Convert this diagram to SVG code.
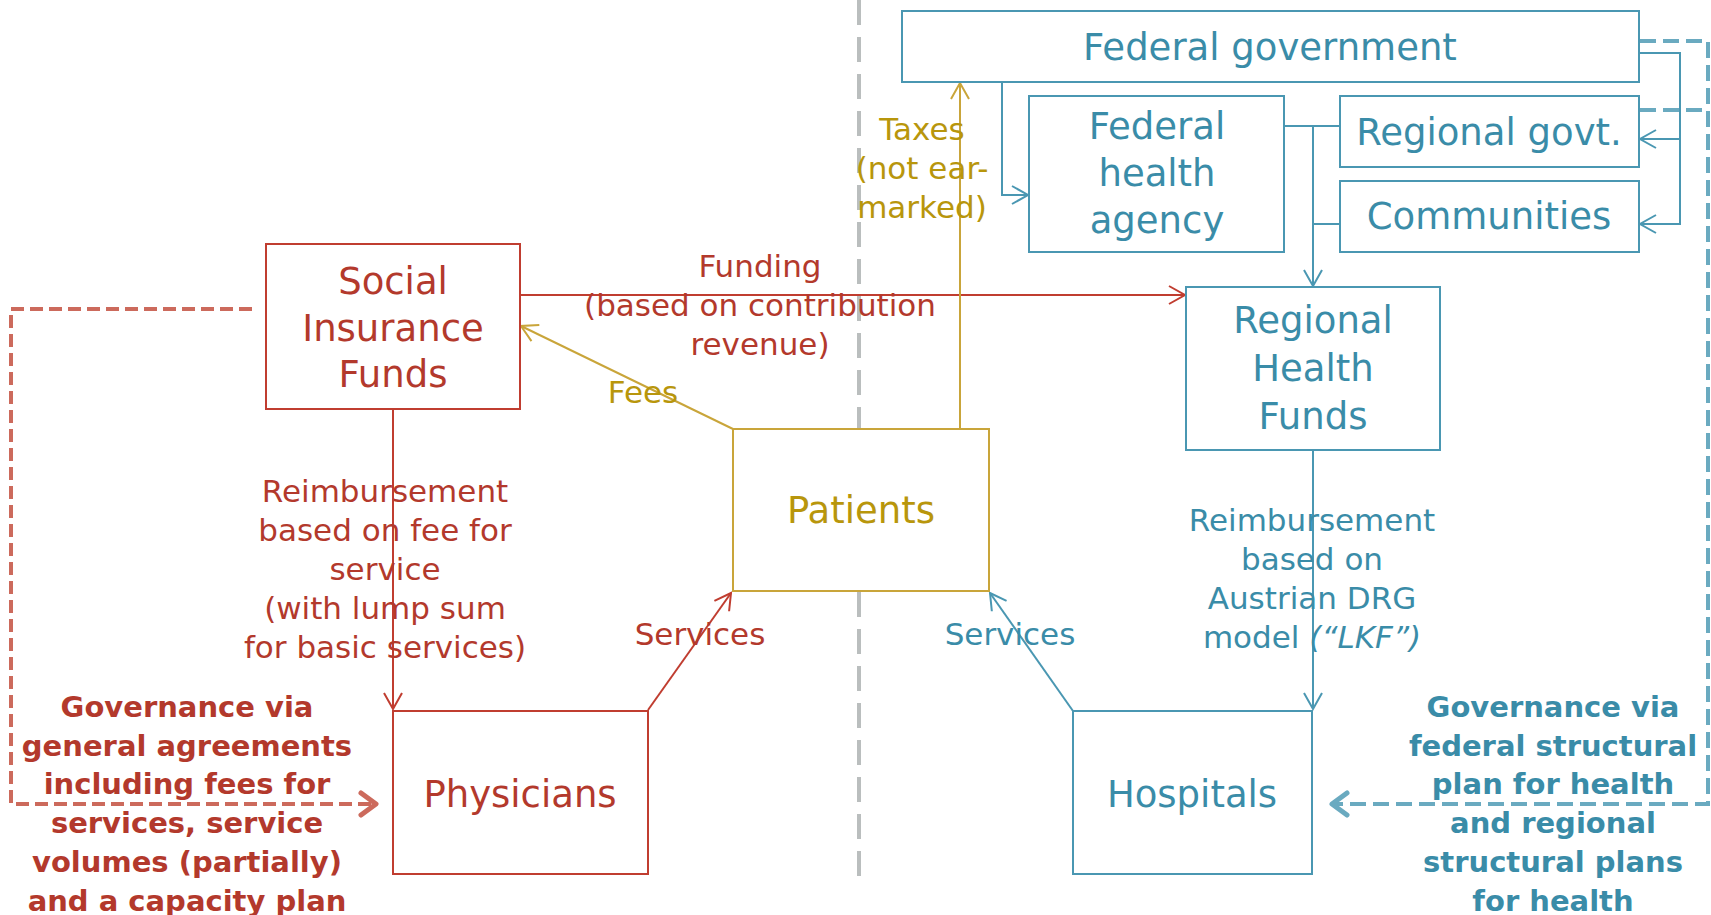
<svg xmlns="http://www.w3.org/2000/svg" width="1711" height="915" viewBox="0 0 1711 915">
  <style>
    .box { fill: #ffffff; stroke-width: 2; }
    .red { stroke: #C03D30; }
    .gold { stroke: #C9A53A; }
    .blue { stroke: #4A97B2; }
    .node { font-family: "DejaVu Sans", "Liberation Sans", sans-serif; font-size: 37px; text-anchor: middle; }
    .lbl { font-family: "DejaVu Sans", "Liberation Sans", sans-serif; font-size: 31px; text-anchor: middle; }
    .gov { font-family: "DejaVu Sans", "Liberation Sans", sans-serif; font-size: 29px; font-weight: bold; text-anchor: middle; }
    .tRed { fill: #B3392C; }
    .tGold { fill: #B8960C; }
    .tBlue { fill: #3A8CA8; }
    .link { fill: none; stroke-width: 2; }
    .dash { fill: none; stroke-width: 4; }
  </style>
  <defs>
    <marker id="arrRed" viewBox="-20 -12 24 24" markerWidth="24" markerHeight="24" refX="0" refY="0" markerUnits="userSpaceOnUse" orient="auto">
      <path d="M-16,-9 L0,0 L-16,9" fill="none" stroke="#C03D30" stroke-width="2"/>
    </marker>
    <marker id="arrGold" viewBox="-20 -12 24 24" markerWidth="24" markerHeight="24" refX="0" refY="0" markerUnits="userSpaceOnUse" orient="auto">
      <path d="M-16,-9 L0,0 L-16,9" fill="none" stroke="#C9A53A" stroke-width="2"/>
    </marker>
    <marker id="arrBlue" viewBox="-20 -12 24 24" markerWidth="24" markerHeight="24" refX="0" refY="0" markerUnits="userSpaceOnUse" orient="auto">
      <path d="M-16,-9 L0,0 L-16,9" fill="none" stroke="#4A97B2" stroke-width="2"/>
    </marker>
    <marker id="arrRedDash" viewBox="-24 -16 30 32" markerWidth="30" markerHeight="32" refX="0" refY="0" markerUnits="userSpaceOnUse" orient="auto">
      <path d="M-15,-11 L0,0 L-15,11" fill="none" stroke="#CC6A5C" stroke-width="5" stroke-linecap="round" stroke-linejoin="round"/>
    </marker>
    <marker id="arrBlueDash" viewBox="-24 -16 30 32" markerWidth="30" markerHeight="32" refX="0" refY="0" markerUnits="userSpaceOnUse" orient="auto">
      <path d="M-15,-11 L0,0 L-15,11" fill="none" stroke="#6AAAC0" stroke-width="5" stroke-linecap="round" stroke-linejoin="round"/>
    </marker>
  </defs>

  <rect width="1711" height="915" fill="#ffffff"/>

  <!-- divider between the two sectors -->
  <line x1="859" y1="0" x2="859" y2="888" stroke="#BABEBE" stroke-width="4" stroke-dasharray="25 12"/>

  <g id="connectors">
    <!-- governance (dashed) -->
    <path class="dash" d="M252,309 H11 V804 H376" stroke="#CC6A5C" stroke-dasharray="13 6" marker-end="url(#arrRedDash)"/>
    <path class="dash" d="M1640,41 H1708 V804 H1332" stroke="#6AAAC0" stroke-dasharray="16 7" marker-end="url(#arrBlueDash)"/>
    <path class="dash" d="M1640,110 H1708" stroke="#6AAAC0" stroke-dasharray="16 7"/>

    <!-- public sector structure -->
    <path class="link blue" d="M1002,82 V195 H1028" marker-end="url(#arrBlue)"/>
    <path class="link blue" d="M1284,126 H1340"/>
    <path class="link blue" d="M1313,126 V286" marker-end="url(#arrBlue)"/>
    <path class="link blue" d="M1313,224 H1340"/>
    <path class="link blue" d="M1639,53 H1680 V224 H1640" marker-end="url(#arrBlue)"/>
    <path class="link blue" d="M1680,139 H1640" marker-end="url(#arrBlue)"/>

    <!-- money and service flows -->
    <path class="link red" d="M520,295 H1185" marker-end="url(#arrRed)"/>
    <path class="link gold" d="M733,429 L521,326" marker-end="url(#arrGold)"/>
    <path class="link gold" d="M960,429 V83" marker-end="url(#arrGold)"/>
    <path class="link red" d="M393,409 V709" marker-end="url(#arrRed)"/>
    <path class="link red" d="M648,710 L731,593" marker-end="url(#arrRed)"/>
    <path class="link blue" d="M1073,711 L990,593" marker-end="url(#arrBlue)"/>
    <path class="link blue" d="M1313,450 V709" marker-end="url(#arrBlue)"/>
  </g>

  <g id="federal-government">
    <rect class="box blue" x="902" y="11" width="737" height="71"/>
    <text class="node tBlue" x="1270" y="60">Federal government</text>
  </g>
  <g id="federal-health-agency">
    <rect class="box blue" x="1029" y="96" width="255" height="156"/>
    <text class="node tBlue" x="1157" y="139">Federal</text>
    <text class="node tBlue" x="1157" y="186">health</text>
    <text class="node tBlue" x="1157" y="233">agency</text>
  </g>
  <g id="regional-govt">
    <rect class="box blue" x="1340" y="96" width="299" height="71"/>
    <text class="node tBlue" x="1489" y="145">Regional govt.</text>
  </g>
  <g id="communities">
    <rect class="box blue" x="1340" y="181" width="299" height="71"/>
    <text class="node tBlue" x="1489" y="229">Communities</text>
  </g>
  <g id="regional-health-funds">
    <rect class="box blue" x="1186" y="287" width="254" height="163"/>
    <text class="node tBlue" x="1313" y="333">Regional</text>
    <text class="node tBlue" x="1313" y="381">Health</text>
    <text class="node tBlue" x="1313" y="429">Funds</text>
  </g>
  <g id="social-insurance-funds">
    <rect class="box red" x="266" y="244" width="254" height="165"/>
    <text class="node tRed" x="393" y="294">Social</text>
    <text class="node tRed" x="393" y="341">Insurance</text>
    <text class="node tRed" x="393" y="387">Funds</text>
  </g>
  <g id="patients">
    <rect class="box gold" x="733" y="429" width="256" height="162"/>
    <text class="node tGold" x="861" y="523">Patients</text>
  </g>
  <g id="physicians">
    <rect class="box red" x="393" y="711" width="255" height="163"/>
    <text class="node tRed" x="520" y="807">Physicians</text>
  </g>
  <g id="hospitals">
    <rect class="box blue" x="1073" y="711" width="239" height="163"/>
    <text class="node tBlue" x="1192" y="807">Hospitals</text>
  </g>

  <g id="labels">
    <text class="lbl tRed" x="760" y="277">Funding</text>
    <text class="lbl tRed" x="760" y="316">(based on contribution</text>
    <text class="lbl tRed" x="760" y="355">revenue)</text>

    <text class="lbl tGold" x="643" y="403">Fees</text>

    <text class="lbl tGold" x="922" y="140">Taxes</text>
    <text class="lbl tGold" x="922" y="179">(not ear-</text>
    <text class="lbl tGold" x="922" y="218">marked)</text>

    <text class="lbl tRed" x="385" y="502">Reimbursement</text>
    <text class="lbl tRed" x="385" y="541">based on fee for</text>
    <text class="lbl tRed" x="385" y="580">service</text>
    <text class="lbl tRed" x="385" y="619">(with lump sum</text>
    <text class="lbl tRed" x="385" y="658">for basic services)</text>

    <text class="lbl tRed" x="700" y="645">Services</text>
    <text class="lbl tBlue" x="1010" y="645">Services</text>

    <text class="lbl tBlue" x="1312" y="531">Reimbursement</text>
    <text class="lbl tBlue" x="1312" y="570">based on</text>
    <text class="lbl tBlue" x="1312" y="609">Austrian DRG</text>
    <text class="lbl tBlue" x="1312" y="648">model <tspan font-style="italic">(“LKF”)</tspan></text>

    <text class="gov tRed" x="187" y="717">Governance via</text>
    <text class="gov tRed" x="187" y="756">general agreements</text>
    <text class="gov tRed" x="187" y="794">including fees for</text>
    <text class="gov tRed" x="187" y="833">services, service</text>
    <text class="gov tRed" x="187" y="872">volumes (partially)</text>
    <text class="gov tRed" x="187" y="911">and a capacity plan</text>

    <text class="gov tBlue" x="1553" y="717">Governance via</text>
    <text class="gov tBlue" x="1553" y="756">federal structural</text>
    <text class="gov tBlue" x="1553" y="794">plan for health</text>
    <text class="gov tBlue" x="1553" y="833">and regional</text>
    <text class="gov tBlue" x="1553" y="872">structural plans</text>
    <text class="gov tBlue" x="1553" y="911">for health</text>
  </g>
</svg>
